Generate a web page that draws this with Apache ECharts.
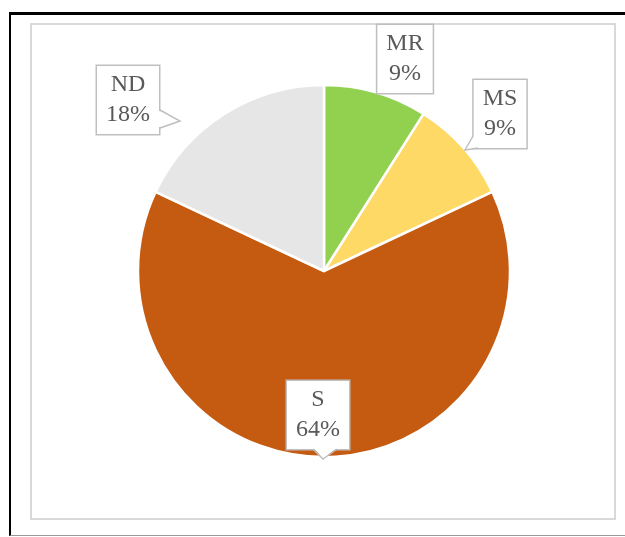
<!DOCTYPE html>
<html>
<head>
<meta charset="utf-8">
<script src="https://cdn.jsdelivr.net/npm/echarts@6/dist/echarts.min.js"></script>
<style>
  html, body { margin: 0; padding: 0; background: #fff; }
  #frame {
    position: absolute; left: 9px; top: 12px; width: 640px; height: 520px;
    border-left: 2px solid #000; border-top: 3px solid #000; border-bottom: 1px solid #999;
  }
  #plot {
    position: absolute; left: 30px; top: 23px; width: 582px; height: 493px;
    border: 2px solid #d9d9d9;
  }
  #main { position: absolute; left: 0; top: 0; width: 625px; height: 537px; }
</style>
</head>
<body>
<div id="frame"></div>
<div id="plot"></div>
<div id="main"></div>
<script>
  // 数据
  var categories = ["MR", "MS", "S", "ND"];
  var percents = [9, 9, 64, 18];
  var colors = ["#92d050", "#ffd966", "#c55a11", "#e7e6e6"];

  // 标签框位置（中心点）
  var labelPos = [[405, 59], [500, 114], [318, 415], [128, 100]];
  // 标注框的小尖角：[底边起点, 尖端, 底边终点]
  var pointers = [
    [[473, 136], [465, 150], [478, 148]],
    [[313, 449], [323, 459], [337, 449]],
    [[160, 110], [180, 121], [160, 128]]
  ];

  var myChart = echarts.init(document.getElementById("main"));

  var graphics = [];
  pointers.forEach(function (pts, i) {
    // 白色填充盖住框线，再描两条边
    var cx = (pts[0][0] + pts[2][0]) / 2, cy = (pts[0][1] + pts[2][1]) / 2;
    var inner = [pts[0], pts[1], pts[2]].map(function (p, k) {
      if (k === 1) return p;
      return [p[0] + (p[0] === pts[1][0] ? 0 : (cx - pts[1][0]) * 0.15), p[1] + (cy - pts[1][1]) * 0.15];
    });
    graphics.push({
      type: "polygon",
      z: 100,
      shape: { points: inner },
      style: { fill: "#fff", stroke: null }
    });
    graphics.push({
      type: "polyline",
      z: 101,
      shape: { points: pts },
      style: { stroke: "#bfbfbf", lineWidth: 1.5, fill: null }
    });
  });

  var option = {
    animation: false,
    color: colors,
    graphic: graphics,
    series: [
      {
        type: "pie",
        center: [324, 271],
        radius: 186,
        startAngle: 90,
        clockwise: true,
        data: categories.map(function (name, i) {
          return { name: name, value: percents[i] };
        }),
        itemStyle: {
          borderColor: "#fff",
          borderWidth: 2.5
        },
        label: {
          show: true,
          formatter: "{b}\n{d}%",
          fontFamily: "Liberation Serif",
          fontSize: 24,
          lineHeight: 30,
          color: "#595959",
          backgroundColor: "#fff",
          borderColor: "#bfbfbf",
          borderWidth: 1.5,
          padding: [5, 9, 3, 9],
          align: "center"
        },
        labelLine: { show: false },
        labelLayout: function (params) {
          var p = labelPos[params.dataIndex];
          return { x: p[0], y: p[1], align: "center", verticalAlign: "middle" };
        }
      }
    ]
  };

  myChart.setOption(option);
</script>
</body>
</html>
